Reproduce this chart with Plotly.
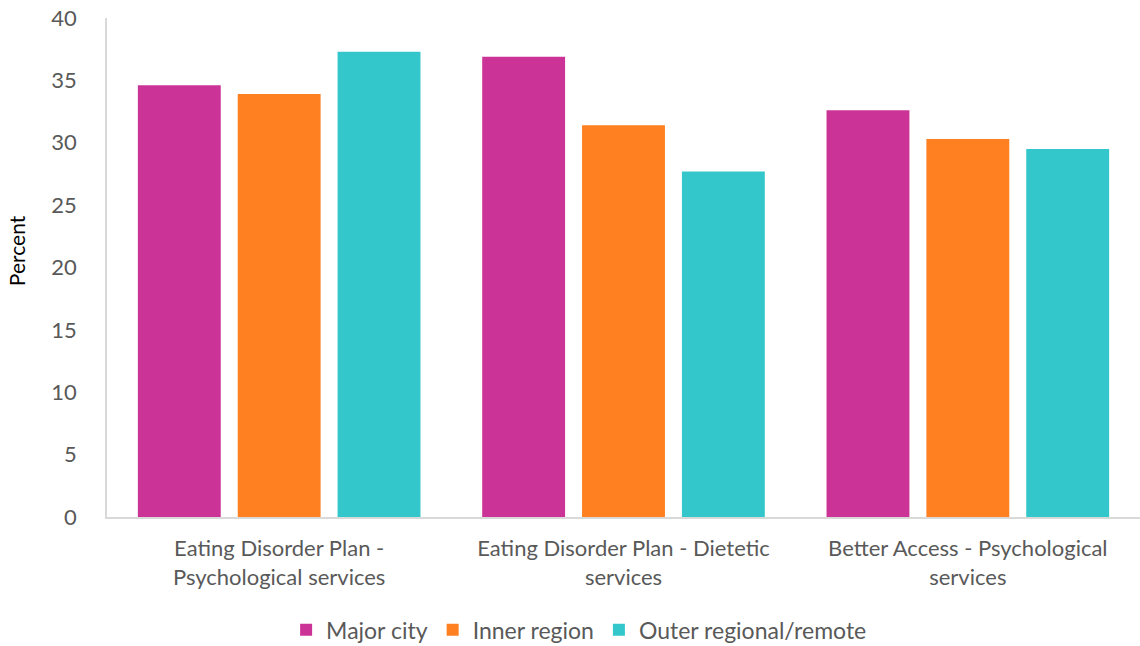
import plotly.graph_objects as go

categories = [
    "Eating Disorder Plan -<br>Psychological services",
    "Eating Disorder Plan - Dietetic<br>services",
    "Better Access - Psychological<br>services",
]
major_city = [34.6, 36.9, 32.6]
inner_region = [33.9, 31.4, 30.3]
outer_remote = [37.3, 27.7, 29.5]

series = [
    ("Major city", major_city, "#CB3396"),
    ("Inner region", inner_region, "#FE8021"),
    ("Outer regional/remote", outer_remote, "#33C7CB"),
]

FONT = "Lato"
GREY_TEXT = "#595959"

fig = go.Figure()
for name, vals, color in series:
    fig.add_trace(go.Bar(
        name=name, x=categories, y=vals,
        marker=dict(color=color, line=dict(width=0)),
    ))

fig.update_layout(
    width=1140, height=646,
    margin=dict(l=107, r=0, t=18, b=129, autoexpand=False),
    paper_bgcolor="white", plot_bgcolor="white",
    barmode="group", bargap=0.13, bargroupgap=0.17,
    font=dict(family=FONT, color=GREY_TEXT, size=21),
    showlegend=True,
    legend=dict(
        orientation="h", x=0.508, xanchor="center", xref="container",
        y=0.025, yanchor="middle", yref="container",
        font=dict(family=FONT, size=23, color=GREY_TEXT),
        itemwidth=30, tracegroupgap=0,
    ),
    annotations=[dict(
        text="Percent", textangle=-90, showarrow=False,
        xref="paper", yref="paper", x=-0.088, y=0.533, xanchor="center", yanchor="middle",
        font=dict(family=FONT, size=21, color="black"),
    )],
)
fig.update_xaxes(
    showline=True, linecolor="#D9D9D9", linewidth=1.5,
    showgrid=False, ticks="", ticklabelstandoff=11,
    tickfont=dict(family=FONT, size=22, color=GREY_TEXT),
)
fig.update_yaxes(
    range=[0, 40], dtick=5, showgrid=False, zeroline=False,
    showline=True, linecolor="#D9D9D9", linewidth=1.5,
    ticks="", ticklabelstandoff=24,
    tickfont=dict(family=FONT, size=22, color=GREY_TEXT),
)

fig.write_html("out.html")
